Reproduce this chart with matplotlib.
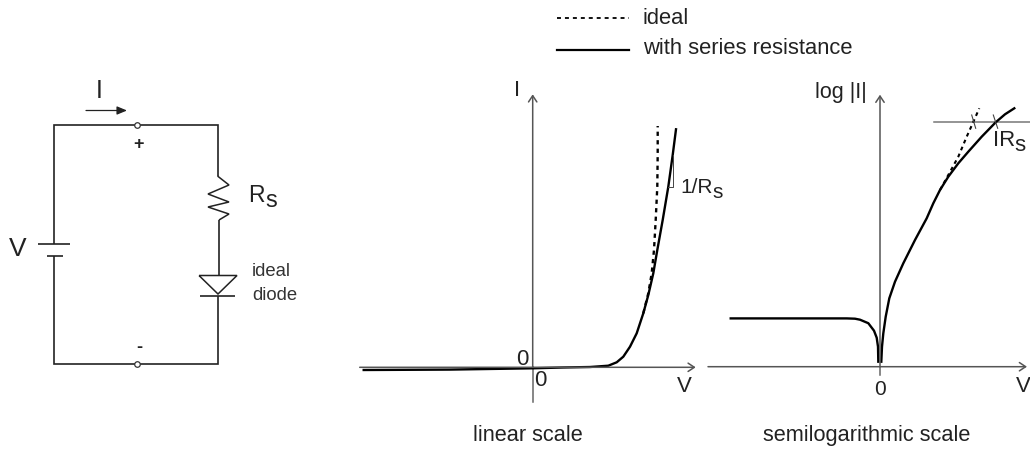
import matplotlib
matplotlib.use("Agg")
from matplotlib import pyplot as plt

plt.rcParams['font.family'] = ['Liberation Sans', 'DejaVu Sans']

# linear panel, V and I in panel units (1 unit = 100 px)
linV = [-1.69, -0.83, 0.0, 0.3, 0.573, 0.756, 0.84, 0.906, 0.973, 1.04, 1.106, 1.156, 1.206, 1.246, 1.30, 1.356, 1.40, 1.433]
linI = [-0.027, -0.023, -0.01, -0.002, 0.003, 0.016, 0.05, 0.106, 0.206, 0.34, 0.54, 0.723, 0.94, 1.173, 1.473, 1.806, 2.123, 2.38]
linIdealV = [1.106, 1.156, 1.19, 1.213, 1.23, 1.246, 1.25, 1.25]
linIdealI = [0.54, 0.74, 0.94, 1.173, 1.473, 1.806, 2.14, 2.413]

# semilog panel, same units
logV = [-1.493, -0.333, -0.25, -0.2, -0.117, -0.06, -0.033, -0.02, -0.017]
logI = [0.483, 0.483, 0.48, 0.47, 0.435, 0.36, 0.29, 0.20, 0.05]
logV2 = [0.013, 0.02, 0.033, 0.057, 0.093, 0.15, 0.233, 0.35, 0.467, 0.533, 0.60, 0.683, 0.783, 0.883, 1.017, 1.157, 1.25, 1.343]
logI2 = [0.05, 0.2, 0.333, 0.5, 0.684, 0.85, 1.034, 1.267, 1.484, 1.634, 1.767, 1.90, 2.034, 2.15, 2.30, 2.444, 2.524, 2.584]
logIdealV = [0.60, 0.683, 0.783, 0.867, 0.927, 0.993]
logIdealI = [1.767, 1.917, 2.10, 2.30, 2.434, 2.584]


def px_axes(fig, x0, y0, scale=100.0):
    # transparent axes over the whole figure, origin at pixel (x0, y0)
    ax = fig.add_axes([0, 0, 1, 1], facecolor='none')
    ax.set_xlim(-x0 / scale, (1030 - x0) / scale)
    ax.set_ylim((y0 - 449) / scale, y0 / scale)
    ax.axis('off')
    return ax


def wire(ax, xs, ys, lw=1.2, color='#222222'):
    ax.plot(xs, ys, color=color, lw=lw, solid_capstyle='butt', solid_joinstyle='miter')


def open_arrow(ax, start, end):
    ax.annotate('', xy=end, xytext=start,
                arrowprops=dict(arrowstyle='->,head_length=0.45,head_width=0.3', color='#555555', lw=1.1,
                                shrinkA=0, shrinkB=0))


def label(ax, x, y, s, size, ha='center', color='#222222'):
    ax.text(x, y, s, fontsize=size, color=color, ha=ha, va='center')


fig = plt.figure(figsize=(10.3, 4.49), dpi=100)

# circuit and legend are a drawing, so plain pixel coords here
bg = fig.add_axes([0, 0, 1, 1])
bg.set_xlim(0, 1030)
bg.set_ylim(449, 0)
bg.axis('off')

wire(bg, [54, 54, 217.5, 217.5], [244, 124.5, 124.5, 176])
wire(bg, [54, 54, 218, 218], [256, 364, 364, 296])
wire(bg, [38, 70], [243.5, 243.5])
wire(bg, [47, 63], [256, 256])
wire(bg, [217.5, 229, 208, 229, 208, 229, 219],
     [176, 185, 194, 202, 207, 214, 220], lw=1.1)
wire(bg, [219, 219], [220, 275])
wire(bg, [199, 237, 218, 199], [275.5, 275.5, 294, 275.5], lw=1.1)
wire(bg, [200, 235], [296, 296])
for tx, ty in [(136.5, 125), (137, 364)]:
    bg.plot([tx], [ty], 'o', ms=4, mfc='white', mec='#333333', mew=0.9)
bg.annotate('', xy=(127, 110.5), xytext=(86, 110.5),
            arrowprops=dict(arrowstyle='-|>,head_length=0.6,head_width=0.25', color='#222222', lw=0.9,
                            shrinkA=0, shrinkB=0))

label(bg, 99.5, 91, 'I', 18)
bg.text(138.5, 145, '+', fontsize=13, fontweight='bold', color='#222222', ha='center', va='center')
bg.text(139, 348, '-', fontsize=13, fontweight='bold', color='#222222', ha='center', va='center')
label(bg, 18, 249, 'V', 19)
label(bg, 248, 195, 'R', 16.5, ha='left')
label(bg, 265, 201, 's', 17, ha='left')
label(bg, 252, 271, 'ideal', 13.3, ha='left', color='#333333')
label(bg, 252, 295, 'diode', 13.3, ha='left', color='#333333')

# legend
bg.plot([556.7, 629.3], [18, 18], color='black', lw=1.3, ls=(0, (2.2, 2.2)))
bg.plot([556.7, 629.3], [49.5, 49.5], color='black', lw=1.6)
label(bg, 643, 18.5, 'ideal', 15.8, ha='left')
label(bg, 643, 48.5, 'with series resistance', 15.8, ha='left')

# linear panel
ax1 = px_axes(fig, 532.7, 367.3)
ax1.plot([0, 0], [-0.35, 0.0], color='#666666', lw=1.1)
open_arrow(ax1, (0, 0), (0, 2.73))
open_arrow(ax1, (-1.73, 0), (1.63, 0))
ax1.plot(linIdealV, linIdealI, color='black', lw=1.7, ls=(0, (1.8, 1.8)))
ax1.plot(linV, linI, color='black', lw=1.7)
ax1.plot([1.406, 1.406, 1.356], [2.123, 1.806, 1.806], color='#444444', lw=0.7)
label(ax1, -0.16, 2.77, 'I', 16)
label(ax1, -0.1, 0.08, '0', 16)
label(ax1, 0.08, -0.13, '0', 16)
label(ax1, 1.52, -0.19, 'V', 16)
label(ax1, 1.473, 1.80, '1/R', 15, ha='left')
label(ax1, 1.795, 1.75, 's', 15, ha='left')
label(ax1, -0.052, -0.68, 'linear scale', 15.7)

# semilog panel
ax2 = px_axes(fig, 880, 366.7)
ax2.plot([0, 0], [-0.08, 0.0], color='#666666', lw=1.1)
open_arrow(ax2, (0, 0), (0, 2.72))
open_arrow(ax2, (-1.72, 0), (1.47, 0))
ax2.plot([0.54, 1.5], [2.45, 2.45], color='#777777', lw=1.1)
ax2.plot(logIdealV, logIdealI, color='black', lw=1.5, ls=(0, (1.8, 1.8)))
ax2.plot(logV, logI, color='black', lw=1.7)
ax2.plot(logV2, logI2, color='black', lw=1.7)
ax2.plot([0.917, 0.957], [2.517, 2.384], color='#444444', lw=0.8)
ax2.plot([1.133, 1.177], [2.517, 2.384], color='#444444', lw=0.8)
label(ax2, -0.39, 2.74, 'log |I|', 15.5)
label(ax2, 0, -0.23, '0', 15)
label(ax2, 1.43, -0.2, 'V', 16)
label(ax2, 1.127, 2.257, 'IR', 16, ha='left')
label(ax2, 1.34, 2.21, 's', 16, ha='left')
label(ax2, -0.135, -0.683, 'semilogarithmic scale', 15.7)

plt.savefig('out.png', dpi=100)
